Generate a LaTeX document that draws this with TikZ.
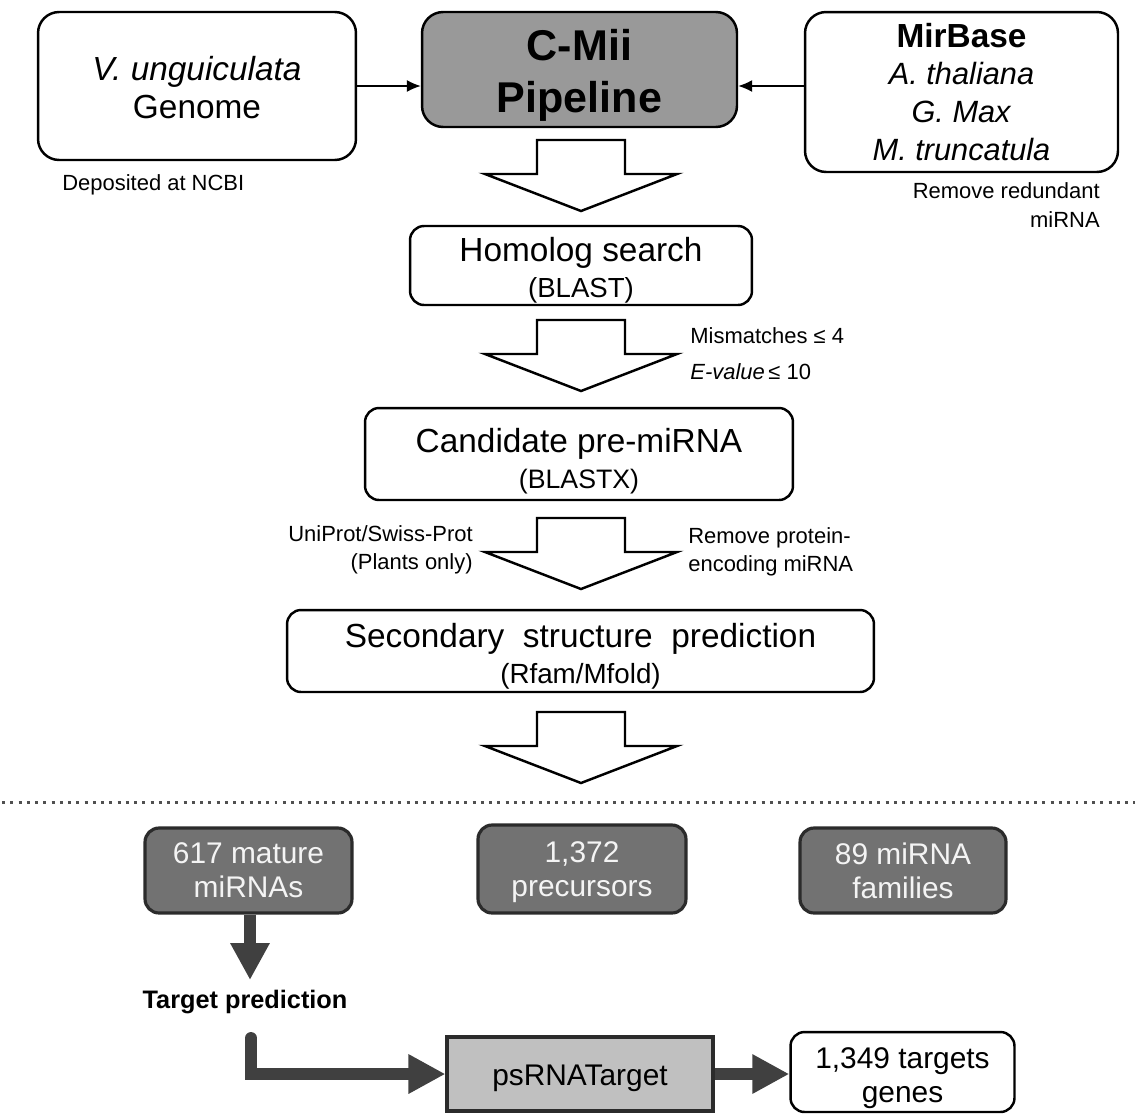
\documentclass[tikz,border=0pt]{standalone}
\usepackage{fontspec}
\setmainfont{Liberation Sans}
\usetikzlibrary{arrows.meta}
\definecolor{cmiigray}{HTML}{999999}
\definecolor{darkbox}{HTML}{727272}
\definecolor{darkedge}{HTML}{2B2B2B}
\definecolor{boxtext}{HTML}{F4F4F4}
\definecolor{psgray}{HTML}{C0C0C0}
\definecolor{thickgray}{HTML}{404040}
\definecolor{dotgray}{HTML}{505050}
\newcommand\fs[2]{\fontsize{#1}{#2}\selectfont}
\newcommand\topgap[1]{\rule{0pt}{#1}}
\newcommand\blockarr[1]{%
  \draw[blockarrow] (537,#1) -- (625,#1) -- (625,#1+34) -- (677,#1+34)
    -- (581,#1+71) -- (485,#1+34) -- (537,#1+34) -- cycle;}
\begin{document}
\begin{tikzpicture}[x=0.02cm,y=-0.02cm,
  bigbox/.style={draw, line width=1.4pt, rounded corners=12pt, fill=white,
    align=center, inner sep=0pt},
  midbox/.style={draw, line width=1.4pt, rounded corners=8pt, fill=white,
    align=center, inner sep=0pt},
  darkbx/.style={draw=darkedge, line width=1.8pt, rounded corners=8pt, fill=darkbox,
    text=boxtext, align=center, inner sep=0pt, font=\fs{17}{19.4}},
  thinarrow/.style={line width=0.8pt, -{Latex[length=0.28cm,width=0.24cm]}},
  blockarrow/.style={draw, line width=1.4pt, fill=white, line join=miter},
  thickarrow/.style={draw=thickgray, line width=6.8pt,
    -{Triangle[length=0.74cm,width=0.74cm]}},
  smalllabel/.style={inner sep=0pt, font=\fs{12.5}{16}},
]
\useasboundingbox (0,0) rectangle (1135,1113);

% top row
\node[bigbox, minimum width=6.36cm, minimum height=2.96cm, font=\fs{19}{22}]
  (gen) at (197,86) {\topgap{15.5pt}\textit{V. unguiculata}\\Genome};
\node[bigbox, fill=cmiigray, minimum width=6.30cm, minimum height=2.30cm,
  font=\bfseries\fs{24.5}{29.6}]
  (cmii) at (579.5,69.5) {\topgap{24.4pt}C-Mii\\Pipeline};
\node[bigbox, minimum width=6.26cm, minimum height=3.20cm, font=\fs{17.5}{21.6}]
  (mir) at (961.5,92) {{\bfseries\fs{19}{21.6}MirBase}\\\textit{A. thaliana}\\\textit{G. Max}\\\textit{M. truncatula}};

\draw[thinarrow] (gen.east) -- (gen.east -| cmii.west);
\draw[thinarrow] (mir.west |- gen.east) -- (gen.east -| cmii.east);

\node[smalllabel, anchor=west] (ncbi) at (62,185) {Deposited at NCBI};
\node[smalllabel, anchor=east, align=right] (redund) at (1100,205)
  {Remove redundant\\miRNA};

% pipeline
\blockarr{140}
\node[midbox, minimum width=6.84cm, minimum height=1.58cm, font=\fs{19}{20.5}]
  (hom) at (581,265.5) {\topgap{19.6pt}Homolog search\\{\fs{15.7}{20.5}(BLAST)}};
\blockarr{320}
\node[smalllabel, anchor=west] (mism) at (690,336) {Mismatches ≤ 4};
\node[smalllabel, anchor=west] (evalue) at (690,372) {\textit{E-value}\,≤ 10};
\node[midbox, minimum width=8.56cm, minimum height=1.84cm, font=\fs{19}{20.5}]
  (cand) at (579,454) {\topgap{21.9pt}Candidate pre-miRNA\\{\fs{15.2}{20.5}(BLASTX)}};
\blockarr{518}
\node[smalllabel, anchor=east, align=right] (uniprot) at (473,550)
  {UniProt/Swiss-Prot\\(Plants only)};
\node[smalllabel, anchor=west, align=left] (remprot) at (688,552)
  {Remove protein-\\encoding miRNA};
\node[midbox, minimum width=11.74cm, minimum height=1.64cm, font=\fs{19}{21}]
  (sec) at (580.5,651) {\topgap{19.8pt}Secondary\ \ structure\ \ prediction\\{\fs{15.8}{21}(Rfam/Mfold)}};
\blockarr{712}

% separator
\coordinate (dl) at (2,802);
\coordinate (dr) at (1135,802);
\draw[dotgray, line width=1.7pt, dash pattern=on 1.7pt off 3pt] (dl) -- (dr);

% results
\node[darkbx, minimum width=4.14cm, minimum height=1.70cm] (m617) at (248.5,870.5)
  {617 mature\\miRNAs};
\node[darkbx, minimum width=4.16cm, minimum height=1.76cm] (p1372) at (582,869)
  {\topgap{15pt}1,372\\precursors};
\node[darkbx, minimum width=4.12cm, minimum height=1.70cm] (f89) at (903,870.5)
  {89 miRNA\\families};

\coordinate (a1) at (250,980);
\draw[thickarrow] (m617.south -| a1) -- (a1);
\node[inner sep=0pt, font=\bfseries\fs{14.4}{16}] (tgt) at (245,1002) {Target prediction};

\node[draw=darkedge, line width=1.8pt, fill=psgray, minimum width=5.32cm,
  minimum height=1.48cm, inner sep=0pt, font=\fs{17}{19.4}]
  (ps) at (580,1074) {\topgap{16.8pt}psRNATarget};
\node[midbox, minimum width=4.48cm, minimum height=1.60cm, font=\fs{17}{19.4}]
  (t1349) at (902.5,1072) {\topgap{19pt}1,349 targets\\genes};

\coordinate (e0) at (251,1038);
\draw[thickarrow, line cap=round] (e0) |- (ps.west);
\draw[thickarrow] (ps.east) -- (ps.east -| t1349.west);
\end{tikzpicture}
\end{document}
